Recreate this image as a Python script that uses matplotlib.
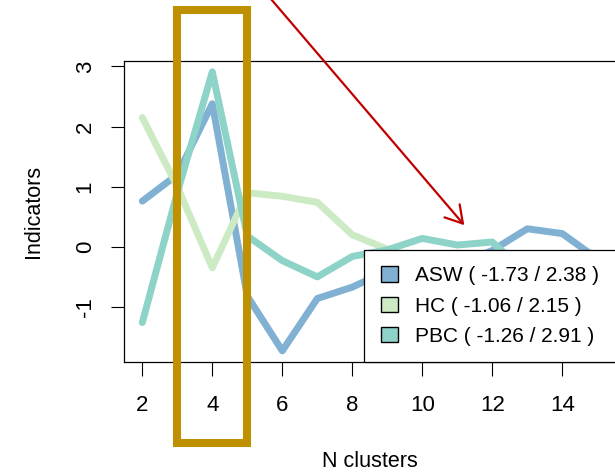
import matplotlib
matplotlib.use("Agg")
import matplotlib.pyplot as plt
from matplotlib.patches import Patch, Rectangle

plt.rcParams['font.family'] = ['Liberation Sans', 'DejaVu Sans']

# number of clusters
n_clusters = [2, 3, 4, 5, 6, 7, 8, 9, 10, 11, 12, 13, 14, 15]

# standardised indicator values (hidden parts guessed)
asw = [0.76, 1.20, 2.38, -0.82, -1.73, -0.86, -0.67, -0.40, -0.35, -0.30, -0.06, 0.30, 0.22, -0.20]
hc = [2.15, 1.00, -0.35, 0.90, 0.84, 0.74, 0.20, -0.04, -0.30, -0.50, -0.70, -0.85, -0.95, -1.06]
pbc = [-1.26, 0.90, 2.91, 0.18, -0.23, -0.50, -0.16, -0.05, 0.14, 0.03, 0.08, -0.45, -0.55, -0.60]

names = ['ASW', 'HC', 'PBC']
colors = ['#80B1D3', '#CCEBC5', '#8DD3C7']
x_ticks = [2, 4, 6, 8, 10, 12, 14]
y_ticks = [-1, 0, 1, 2, 3]

fig = plt.figure(figsize=(6.15, 4.74), dpi=100)
ax = fig.add_axes([124.1 / 615, 112 / 474, 491.4 / 615, 301.3 / 474])

series = [asw, hc, pbc]
for vals, col in zip(series, colors):
    ax.plot(n_clusters, vals, color=col, lw=5, solid_capstyle='round',
            solid_joinstyle='round', zorder=2)

# R style 4% axis extension
lo = min(min(s) for s in series)
hi = max(max(s) for s in series)
ax.set_ylim(lo - 0.04 * (hi - lo), hi + 0.04 * (hi - lo))
xr = n_clusters[-1] - n_clusters[0]
ax.set_xlim(n_clusters[0] - 0.04 * xr, n_clusters[-1] + 0.04 * xr)

ax.set_xticks(x_ticks)
ax.set_yticks(y_ticks)
ax.set_yticklabels([str(v) for v in y_ticks], rotation=90, va='center')
ax.tick_params(axis='x', length=10, width=0.8, pad=14, labelsize=16)
ax.tick_params(axis='y', length=9.5, width=0.8, pad=11, labelsize=16)
for s in ax.spines.values():
    s.set_linewidth(0.9)

ax.set_xlabel('N clusters', fontsize=15.5)
ax.set_ylabel('Indicators', fontsize=15.5)
ax.xaxis.set_label_coords(0.5, -0.295)
ax.yaxis.set_label_coords(-0.163, 0.5)

# legend with min / max of each indicator
handles = []
for nm, vals, col in zip(names, series, colors):
    lab = '%s ( %.2f / %.2f )' % (nm, min(vals), max(vals))
    handles.append(Patch(facecolor=col, edgecolor='black', lw=1, label=lab))
leg = ax.legend(handles=handles, loc='lower left', bbox_to_anchor=(0.489, 0),
                borderaxespad=0, fontsize=15, fancybox=False, framealpha=1,
                edgecolor='black', handlelength=0.82, handleheight=0.75,
                handletextpad=0.85, labelspacing=0.54, borderpad=0.78)
leg.get_frame().set_linewidth(0.9)
leg.set_zorder(5)

# highlight box around 4 clusters
ax.add_patch(Rectangle((2.98, -3.27), 2.0, 7.21, fill=False, edgecolor='#BF9000',
                       lw=5.8, joinstyle='miter', clip_on=False, zorder=10))

# red arrow
ax.annotate('', xy=(11.2, 0.36), xytext=(5.4, 4.31),
            arrowprops=dict(arrowstyle='->,head_length=0.6,head_width=0.36',
                            color='#C00000', lw=1.6, mutation_scale=20,
                            shrinkA=0, shrinkB=0),
            annotation_clip=False, zorder=11)

fig.savefig('out.png', dpi=100)
